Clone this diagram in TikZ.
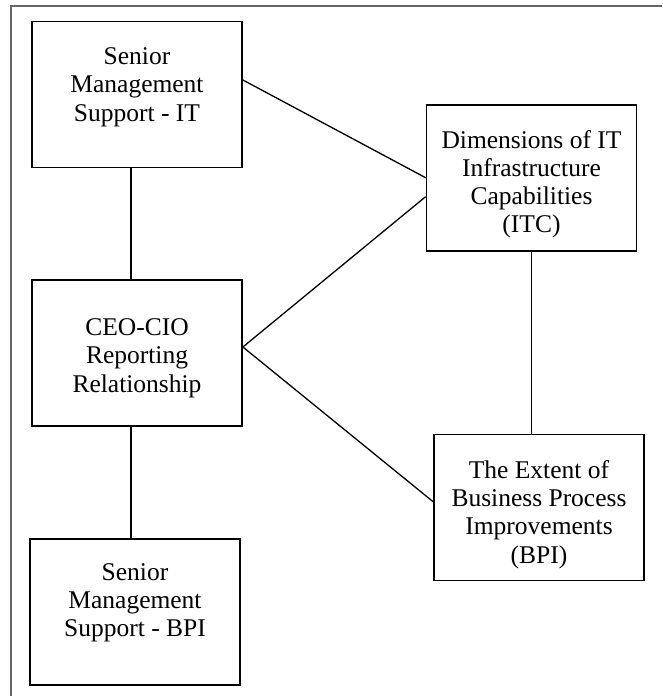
\documentclass[tikz,border=0pt]{standalone}
\usepackage{fontspec}
\setmainfont{Liberation Serif}
\begin{document}
\begin{tikzpicture}[x=1pt,y=-1pt,
	box/.style={draw,line width=1.8pt,minimum width=210pt,minimum height=146pt,inner sep=0pt,align=center,font=\fontsize{25.5}{28.3}\selectfont},
	link/.style={line width=1.3pt}]
			\useasboundingbox (0,0) rectangle (662,696);
			\draw[gray!80!black,line width=1.5pt] (11,696) -- (11,6) -- (662,6);
			\node[box] (smit) at (137,94.5) {Senior\\Management\\Support - IT\rule[-20pt]{0pt}{0pt}};
			\node[box] (ceo) at (137,352.6) {\rule{0pt}{28pt}CEO-CIO\\Reporting\\Relationship};
			\node[box] (smbpi) at (135,612) {Senior\\Management\\Support - BPI\rule[-24pt]{0pt}{0pt}};
			\node[box] (itc) at (531.5,177.7) {\rule{0pt}{31pt}Dimensions of IT\\Infrastructure\\Capabilities\\(ITC)};
			\node[box] (bpi) at (539,507.4) {\rule{0pt}{32pt}The Extent of\\Business Process\\Improvements\\(BPI)};
			\draw[link] ([yshift=14.5pt]smit.east) -- (itc.west);
			\draw[link] ([yshift=5.6pt]ceo.east) -- ([yshift=-19pt]itc.west);
			\draw[link] ([yshift=5.6pt]ceo.east) -- ([yshift=5.7pt]bpi.west);
			\draw[link] ([xshift=-6pt]smit.south) -- ([xshift=-6pt]ceo.north);
			\draw[link] ([xshift=-6pt]ceo.south) -- ([xshift=-6pt]ceo.south |- smbpi.north);
			\draw[link] (itc.south) -- (itc.south |- bpi.north);
			\end{tikzpicture}
\end{document}
